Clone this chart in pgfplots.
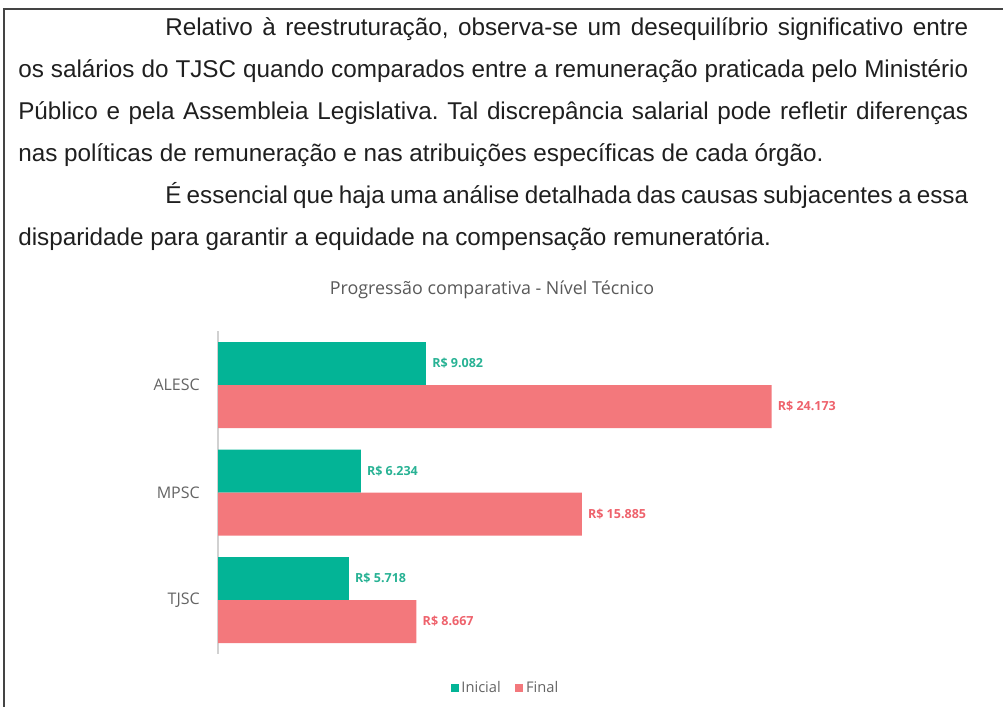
\documentclass[border=0pt]{standalone}
\usepackage{fontspec}
\setmainfont{Liberation Sans}
\newfontfamily\chartfont{Open Sans}
\usepackage{pgfplots}
\pgfplotsset{compat=1.18}
\frenchspacing
\definecolor{cteal}{RGB}{3,180,150}
\definecolor{cred}{RGB}{243,120,124}
\definecolor{lteal}{RGB}{40,178,148}
\definecolor{lred}{RGB}{238,98,108}
\definecolor{bordergray}{RGB}{68,68,68}
\definecolor{titlegray}{RGB}{89,89,89}
\definecolor{labgray}{RGB}{100,100,100}
\begin{document}
\begin{tikzpicture}
\begin{scope}[x=0.75pt,y=-0.75pt]
\useasboundingbox (0,0) rectangle (1006,707);
% frame
\draw[bordergray, line width=1.5pt] (2.8,8.5) -- (1003,8.5);
\draw[bordergray, line width=1.3pt] (3.7,8) -- (3.7,707);
% body text
\begin{scope}[every node/.style={anchor=base west, inner sep=0pt, text=black!88, font=\fontsize{18.2}{20}\selectfont}]
\node at (165,35) {\makebox[602.25pt][s]{Relativo à reestruturação, observa-se um desequilíbrio significativo entre}};
\node at (18,77) {\makebox[712.5pt][s]{os salários do TJSC quando comparados entre a remuneração praticada pelo Ministério}};
\node at (18,119) {\makebox[712.5pt][s]{Público e pela Assembleia Legislativa. Tal discrepância salarial pode refletir diferenças}};
\node at (18,161) {nas políticas de remuneração e nas atribuições específicas de cada órgão.};
\node at (165,203) {\makebox[602.25pt][s]{É essencial que haja uma análise detalhada das causas subjacentes a essa}};
\node at (18,245) {disparidade para garantir a equidade na compensação remuneratória.};
\end{scope}
% chart title
\node[anchor=base, inner sep=0pt, text=titlegray, font=\chartfont\fontsize{13.4}{15}\selectfont] at (492,294) {Progressão comparativa - Nível Técnico};
\coordinate (axSW) at (218,653.75);
\end{scope}
\begin{axis}[
  at={(axSW)}, anchor=south west,
  scale only axis, width=515.25pt, height=241.875pt,
  xmin=0, xmax=30000, ymin=0.5, ymax=3.5,
  xbar, bar width=32.25pt,
  axis x line=none,
  axis y line=left,
  y axis line style={draw=black!18, line width=0.8pt, -},
  ytick={1,2,3}, yticklabels={TJSC,MPSC,ALESC},
  major tick length=0pt,
  yticklabel style={font=\chartfont\fontsize{12}{14}\selectfont, text=labgray, inner sep=0pt, xshift=-13.5pt},
  /pgf/number format/assume math mode=true,
  point meta=x,
  nodes near coords={R\$ \pgfmathprintnumber[fixed,precision=0,1000 sep={.}]{\pgfplotspointmeta}},
  nodes near coords align={horizontal},
  every node near coord/.append style={font=\chartfont\bfseries\fontsize{9.4}{11}\selectfont, inner sep=0pt, xshift=4.5pt},
  legend style={at={(0.419,-0.105)}, anchor=center, draw=none, fill=none, legend columns=2,
     font=\chartfont\fontsize{11}{13}\selectfont, text=labgray,
     /tikz/every even column/.append style={column sep=9pt}},
  legend image code/.code={\fill[#1] (0pt,-3pt) rectangle (6pt,3pt);},
  clip=false,
]
\addplot[fill=cteal, draw=none, bar shift=16.125pt, every node near coord/.append style={text=lteal}]
  coordinates {(9082,3) (6234,2) (5718,1)};
\addlegendentry{Inicial}
\addplot[fill=cred, draw=none, bar shift=-16.125pt, every node near coord/.append style={text=lred}]
  coordinates {(24173,3) (15885,2) (8667,1)};
\addlegendentry{Final}
\end{axis}
\end{tikzpicture}
\end{document}
